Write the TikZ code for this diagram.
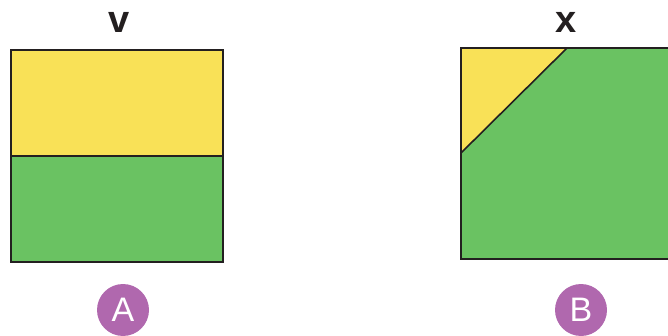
\documentclass[tikz,border=0pt]{standalone}
\usepackage{fontspec}
\setmainfont{Liberation Sans}
\definecolor{sqyellow}{HTML}{F9E157}
\definecolor{sqgreen}{HTML}{6AC262}
\definecolor{tagpurple}{HTML}{B068AE}
\definecolor{edgeblack}{HTML}{231F20}
\tikzset{
  tag/.style={circle, fill=tagpurple, minimum size=52pt, inner sep=0pt, text=white, font=\fontsize{34}{34}\selectfont},
  title/.style={font=\fontsize{38}{38}\selectfont\bfseries, text=edgeblack}
}
\begin{document}
\begin{tikzpicture}[x=1pt,y=-1pt]
\clip (0,0) rectangle (668,336);
% square A
\fill[sqyellow] (11,50) rectangle (223,156);
\fill[sqgreen] (11,156) rectangle (223,262);
\draw[edgeblack, line width=2pt] (11,156) -- (223,156);
\draw[edgeblack, line width=2pt] (11,50) rectangle (223,262);
\node[title] (labv) at (119,22) {v};
\node[tag] (tagA) at (123,310) {A};
% square B
\fill[sqgreen] (461,48) rectangle (673,259);
\fill[sqyellow] (461,48) -- (567,48) -- (461,153) -- cycle;
\draw[edgeblack, line width=1.6pt] (567,48) -- (461,153);
\draw[edgeblack, line width=2pt] (461,48) rectangle (673,259);
\node[title] (labx) at (566,22) {x};
\node[tag] (tagB) at (581,310) {B};
\end{tikzpicture}
\end{document}
